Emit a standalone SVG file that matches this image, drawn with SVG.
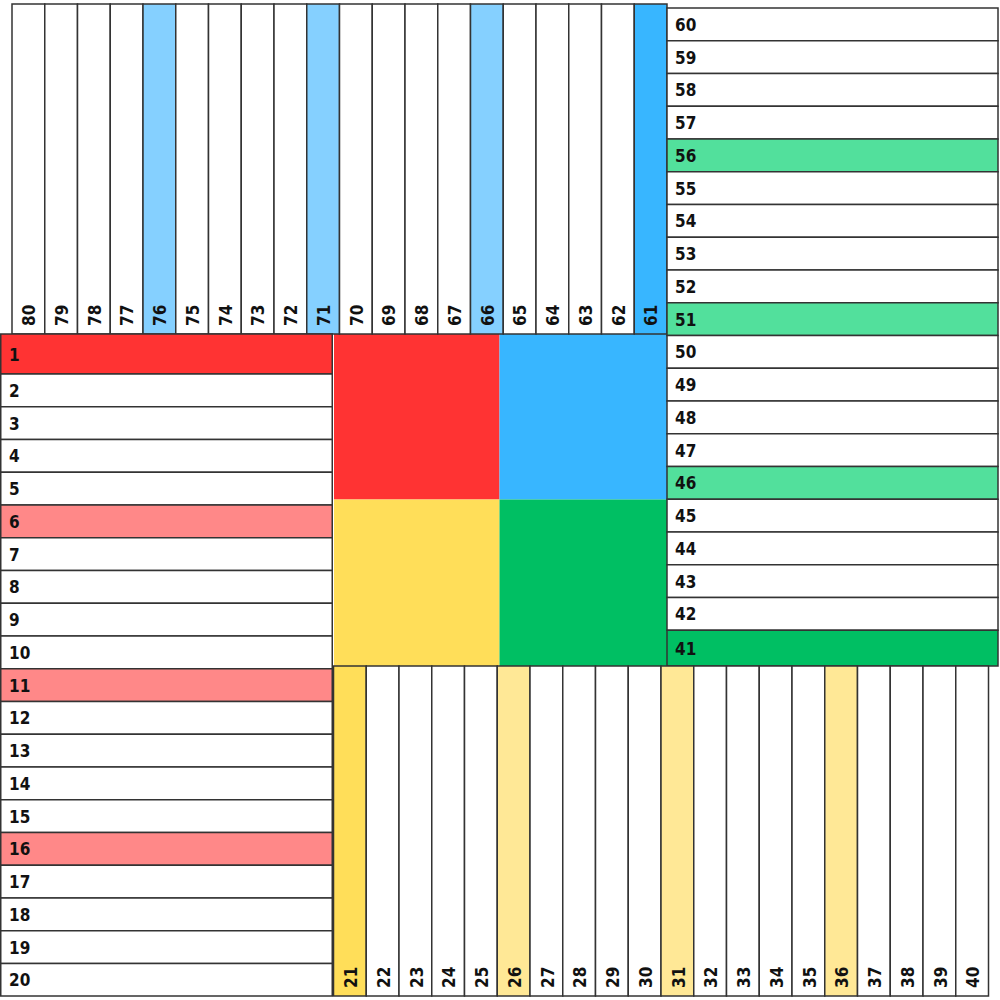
<svg xmlns="http://www.w3.org/2000/svg" width="1000" height="1000" viewBox="0 0 1000 1000">
<style>
.c{stroke:#333;stroke-width:1.5;fill:#fff}
.r{fill:#FF3333}.lr{fill:#FF8888}
.b{fill:#38B6FF}.lb{fill:#85D0FF}
.y{fill:#FFDE59}.ly{fill:#FFE896}
.g{fill:#00BF63}.lg{fill:#52E09C}
text{font-family:"DejaVu Sans Condensed","DejaVu Sans",sans-serif;font-stretch:condensed;font-weight:bold;font-size:17px;fill:#111}
</style>
<rect width="1000" height="1000" fill="#fff"/>
<g id="center">
<rect id="home-red" x="334" y="334" width="165.5" height="165.5" fill="#FF3333"/>
<rect id="home-blue" x="499.5" y="334" width="167.5" height="165.5" fill="#38B6FF"/>
<rect id="home-yellow" x="334" y="499.5" width="165.5" height="166.5" fill="#FFDE59"/>
<rect id="home-green" x="499.5" y="499.5" width="167.5" height="166.5" fill="#00BF63"/>
</g>
<g id="top-row">
<g id="cell-80"><rect class="c" x="12" y="4" width="32.75" height="330"/><text transform="rotate(-90 35 326)" x="35" y="326">80</text></g>
<g id="cell-79"><rect class="c" x="44.75" y="4" width="32.75" height="330"/><text transform="rotate(-90 67.75 326)" x="67.75" y="326">79</text></g>
<g id="cell-78"><rect class="c" x="77.5" y="4" width="32.75" height="330"/><text transform="rotate(-90 100.5 326)" x="100.5" y="326">78</text></g>
<g id="cell-77"><rect class="c" x="110.25" y="4" width="32.75" height="330"/><text transform="rotate(-90 133.25 326)" x="133.25" y="326">77</text></g>
<g id="cell-76"><rect class="c lb" x="143" y="4" width="32.75" height="330"/><text transform="rotate(-90 166 326)" x="166" y="326">76</text></g>
<g id="cell-75"><rect class="c" x="175.75" y="4" width="32.75" height="330"/><text transform="rotate(-90 198.75 326)" x="198.75" y="326">75</text></g>
<g id="cell-74"><rect class="c" x="208.5" y="4" width="32.75" height="330"/><text transform="rotate(-90 231.5 326)" x="231.5" y="326">74</text></g>
<g id="cell-73"><rect class="c" x="241.25" y="4" width="32.75" height="330"/><text transform="rotate(-90 264.25 326)" x="264.25" y="326">73</text></g>
<g id="cell-72"><rect class="c" x="274" y="4" width="32.75" height="330"/><text transform="rotate(-90 297 326)" x="297" y="326">72</text></g>
<g id="cell-71"><rect class="c lb" x="306.75" y="4" width="32.75" height="330"/><text transform="rotate(-90 329.75 326)" x="329.75" y="326">71</text></g>
<g id="cell-70"><rect class="c" x="339.5" y="4" width="32.75" height="330"/><text transform="rotate(-90 362.5 326)" x="362.5" y="326">70</text></g>
<g id="cell-69"><rect class="c" x="372.25" y="4" width="32.75" height="330"/><text transform="rotate(-90 395.25 326)" x="395.25" y="326">69</text></g>
<g id="cell-68"><rect class="c" x="405" y="4" width="32.75" height="330"/><text transform="rotate(-90 428 326)" x="428" y="326">68</text></g>
<g id="cell-67"><rect class="c" x="437.75" y="4" width="32.75" height="330"/><text transform="rotate(-90 460.75 326)" x="460.75" y="326">67</text></g>
<g id="cell-66"><rect class="c lb" x="470.5" y="4" width="32.75" height="330"/><text transform="rotate(-90 493.5 326)" x="493.5" y="326">66</text></g>
<g id="cell-65"><rect class="c" x="503.25" y="4" width="32.75" height="330"/><text transform="rotate(-90 526.25 326)" x="526.25" y="326">65</text></g>
<g id="cell-64"><rect class="c" x="536" y="4" width="32.75" height="330"/><text transform="rotate(-90 559 326)" x="559" y="326">64</text></g>
<g id="cell-63"><rect class="c" x="568.75" y="4" width="32.75" height="330"/><text transform="rotate(-90 591.75 326)" x="591.75" y="326">63</text></g>
<g id="cell-62"><rect class="c" x="601.5" y="4" width="32.75" height="330"/><text transform="rotate(-90 624.5 326)" x="624.5" y="326">62</text></g>
<g id="cell-61"><rect class="c b" x="634.25" y="4" width="32.75" height="330"/><text transform="rotate(-90 657.25 326)" x="657.25" y="326">61</text></g>
</g>
<g id="right-column">
<g id="cell-60"><rect class="c" x="667" y="8" width="331" height="32.75"/><text x="675" y="30.9">60</text></g>
<g id="cell-59"><rect class="c" x="667" y="40.75" width="331" height="32.75"/><text x="675" y="63.65">59</text></g>
<g id="cell-58"><rect class="c" x="667" y="73.5" width="331" height="32.75"/><text x="675" y="96.4">58</text></g>
<g id="cell-57"><rect class="c" x="667" y="106.25" width="331" height="32.75"/><text x="675" y="129.15">57</text></g>
<g id="cell-56"><rect class="c lg" x="667" y="139" width="331" height="32.75"/><text x="675" y="161.9">56</text></g>
<g id="cell-55"><rect class="c" x="667" y="171.75" width="331" height="32.75"/><text x="675" y="194.65">55</text></g>
<g id="cell-54"><rect class="c" x="667" y="204.5" width="331" height="32.75"/><text x="675" y="227.4">54</text></g>
<g id="cell-53"><rect class="c" x="667" y="237.25" width="331" height="32.75"/><text x="675" y="260.15">53</text></g>
<g id="cell-52"><rect class="c" x="667" y="270" width="331" height="32.75"/><text x="675" y="292.9">52</text></g>
<g id="cell-51"><rect class="c lg" x="667" y="302.75" width="331" height="32.75"/><text x="675" y="325.65">51</text></g>
<g id="cell-50"><rect class="c" x="667" y="335.5" width="331" height="32.75"/><text x="675" y="358.4">50</text></g>
<g id="cell-49"><rect class="c" x="667" y="368.25" width="331" height="32.75"/><text x="675" y="391.15">49</text></g>
<g id="cell-48"><rect class="c" x="667" y="401" width="331" height="32.75"/><text x="675" y="423.9">48</text></g>
<g id="cell-47"><rect class="c" x="667" y="433.75" width="331" height="32.75"/><text x="675" y="456.65">47</text></g>
<g id="cell-46"><rect class="c lg" x="667" y="466.5" width="331" height="32.75"/><text x="675" y="489.4">46</text></g>
<g id="cell-45"><rect class="c" x="667" y="499.25" width="331" height="32.75"/><text x="675" y="522.15">45</text></g>
<g id="cell-44"><rect class="c" x="667" y="532" width="331" height="32.75"/><text x="675" y="554.9">44</text></g>
<g id="cell-43"><rect class="c" x="667" y="564.75" width="331" height="32.75"/><text x="675" y="587.65">43</text></g>
<g id="cell-42"><rect class="c" x="667" y="597.5" width="331" height="32.75"/><text x="675" y="620.4">42</text></g>
<g id="cell-41"><rect class="c g" x="667" y="630.25" width="331" height="35.75"/><text x="675" y="654.6">41</text></g>
</g>
<g id="left-column">
<g id="cell-1"><rect class="c r" x="0.75" y="334" width="331.5" height="40"/><text x="9" y="360.5">1</text></g>
<g id="cell-2"><rect class="c" x="0.75" y="374" width="331.5" height="32.75"/><text x="9" y="396.9">2</text></g>
<g id="cell-3"><rect class="c" x="0.75" y="406.75" width="331.5" height="32.75"/><text x="9" y="429.65">3</text></g>
<g id="cell-4"><rect class="c" x="0.75" y="439.5" width="331.5" height="32.75"/><text x="9" y="462.4">4</text></g>
<g id="cell-5"><rect class="c" x="0.75" y="472.25" width="331.5" height="32.75"/><text x="9" y="495.15">5</text></g>
<g id="cell-6"><rect class="c lr" x="0.75" y="505" width="331.5" height="32.75"/><text x="9" y="527.9">6</text></g>
<g id="cell-7"><rect class="c" x="0.75" y="537.75" width="331.5" height="32.75"/><text x="9" y="560.65">7</text></g>
<g id="cell-8"><rect class="c" x="0.75" y="570.5" width="331.5" height="32.75"/><text x="9" y="593.4">8</text></g>
<g id="cell-9"><rect class="c" x="0.75" y="603.25" width="331.5" height="32.75"/><text x="9" y="626.15">9</text></g>
<g id="cell-10"><rect class="c" x="0.75" y="636" width="331.5" height="32.75"/><text x="9" y="658.9">10</text></g>
<g id="cell-11"><rect class="c lr" x="0.75" y="668.75" width="331.5" height="32.75"/><text x="9" y="691.65">11</text></g>
<g id="cell-12"><rect class="c" x="0.75" y="701.5" width="331.5" height="32.75"/><text x="9" y="724.4">12</text></g>
<g id="cell-13"><rect class="c" x="0.75" y="734.25" width="331.5" height="32.75"/><text x="9" y="757.15">13</text></g>
<g id="cell-14"><rect class="c" x="0.75" y="767" width="331.5" height="32.75"/><text x="9" y="789.9">14</text></g>
<g id="cell-15"><rect class="c" x="0.75" y="799.75" width="331.5" height="32.75"/><text x="9" y="822.65">15</text></g>
<g id="cell-16"><rect class="c lr" x="0.75" y="832.5" width="331.5" height="32.75"/><text x="9" y="855.4">16</text></g>
<g id="cell-17"><rect class="c" x="0.75" y="865.25" width="331.5" height="32.75"/><text x="9" y="888.15">17</text></g>
<g id="cell-18"><rect class="c" x="0.75" y="898" width="331.5" height="32.75"/><text x="9" y="920.9">18</text></g>
<g id="cell-19"><rect class="c" x="0.75" y="930.75" width="331.5" height="32.75"/><text x="9" y="953.65">19</text></g>
<g id="cell-20"><rect class="c" x="0.75" y="963.5" width="331.5" height="32.5"/><text x="9" y="986.4">20</text></g>
</g>
<g id="bottom-row">
<g id="cell-21"><rect class="c y" x="333.5" y="666" width="32.75" height="330"/><text transform="rotate(-90 357 988)" x="357" y="988">21</text></g>
<g id="cell-22"><rect class="c" x="366.25" y="666" width="32.75" height="330"/><text transform="rotate(-90 389.75 988)" x="389.75" y="988">22</text></g>
<g id="cell-23"><rect class="c" x="399" y="666" width="32.75" height="330"/><text transform="rotate(-90 422.5 988)" x="422.5" y="988">23</text></g>
<g id="cell-24"><rect class="c" x="431.75" y="666" width="32.75" height="330"/><text transform="rotate(-90 455.25 988)" x="455.25" y="988">24</text></g>
<g id="cell-25"><rect class="c" x="464.5" y="666" width="32.75" height="330"/><text transform="rotate(-90 488 988)" x="488" y="988">25</text></g>
<g id="cell-26"><rect class="c ly" x="497.25" y="666" width="32.75" height="330"/><text transform="rotate(-90 520.75 988)" x="520.75" y="988">26</text></g>
<g id="cell-27"><rect class="c" x="530" y="666" width="32.75" height="330"/><text transform="rotate(-90 553.5 988)" x="553.5" y="988">27</text></g>
<g id="cell-28"><rect class="c" x="562.75" y="666" width="32.75" height="330"/><text transform="rotate(-90 586.25 988)" x="586.25" y="988">28</text></g>
<g id="cell-29"><rect class="c" x="595.5" y="666" width="32.75" height="330"/><text transform="rotate(-90 619 988)" x="619" y="988">29</text></g>
<g id="cell-30"><rect class="c" x="628.25" y="666" width="32.75" height="330"/><text transform="rotate(-90 651.75 988)" x="651.75" y="988">30</text></g>
<g id="cell-31"><rect class="c ly" x="661" y="666" width="32.75" height="330"/><text transform="rotate(-90 684.5 988)" x="684.5" y="988">31</text></g>
<g id="cell-32"><rect class="c" x="693.75" y="666" width="32.75" height="330"/><text transform="rotate(-90 717.25 988)" x="717.25" y="988">32</text></g>
<g id="cell-33"><rect class="c" x="726.5" y="666" width="32.75" height="330"/><text transform="rotate(-90 750 988)" x="750" y="988">33</text></g>
<g id="cell-34"><rect class="c" x="759.25" y="666" width="32.75" height="330"/><text transform="rotate(-90 782.75 988)" x="782.75" y="988">34</text></g>
<g id="cell-35"><rect class="c" x="792" y="666" width="32.75" height="330"/><text transform="rotate(-90 815.5 988)" x="815.5" y="988">35</text></g>
<g id="cell-36"><rect class="c ly" x="824.75" y="666" width="32.75" height="330"/><text transform="rotate(-90 848.25 988)" x="848.25" y="988">36</text></g>
<g id="cell-37"><rect class="c" x="857.5" y="666" width="32.75" height="330"/><text transform="rotate(-90 881 988)" x="881" y="988">37</text></g>
<g id="cell-38"><rect class="c" x="890.25" y="666" width="32.75" height="330"/><text transform="rotate(-90 913.75 988)" x="913.75" y="988">38</text></g>
<g id="cell-39"><rect class="c" x="923" y="666" width="32.75" height="330"/><text transform="rotate(-90 946.5 988)" x="946.5" y="988">39</text></g>
<g id="cell-40"><rect class="c" x="955.75" y="666" width="32.75" height="330"/><text transform="rotate(-90 979.25 988)" x="979.25" y="988">40</text></g>
</g>
</svg>
